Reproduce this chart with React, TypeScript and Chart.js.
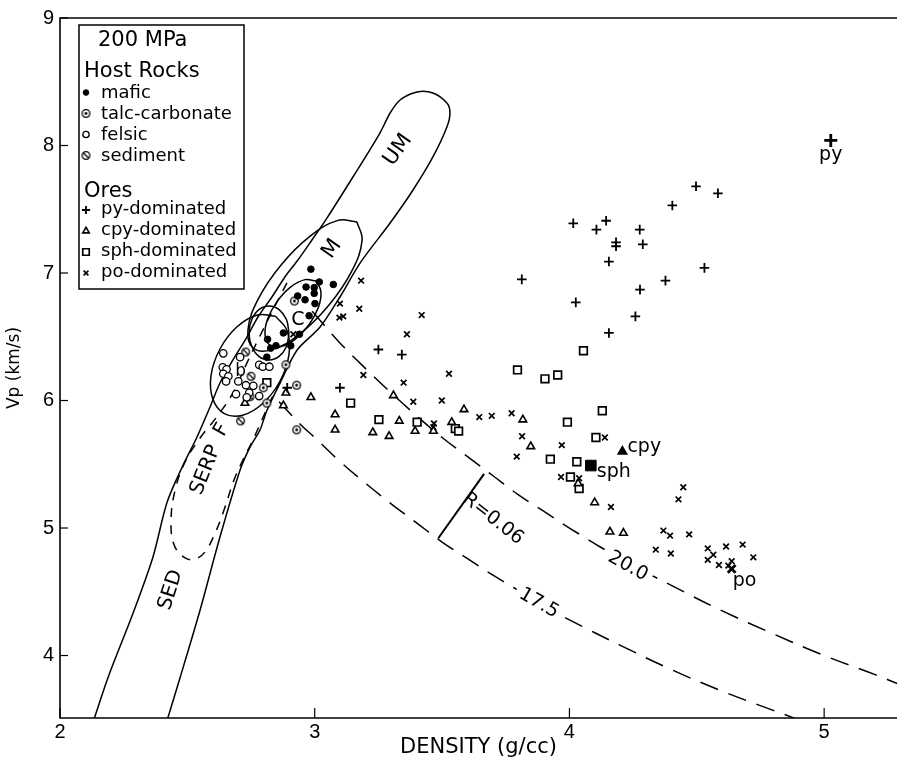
import React, { useEffect, useRef } from 'react';
import { Chart, registerables } from 'chart.js';
import { drawPoint } from 'chart.js/helpers';
Chart.register(...registerables);

type P = [number, number];

// ---------- axes ----------
const xTicks = [2, 3, 4, 5];
const yTicks = [4, 5, 6, 7, 8, 9];
const xRange: P = [2, 5.286];
const yRange: P = [3.51, 9];

// ---------- host rocks ----------
const mafic: P[] = [[2.985,7.03],[3.018,6.93],[3.073,6.91],[2.966,6.89],[2.998,6.885],[2.998,6.84],[2.933,6.82],[2.962,6.79],[3.001,6.76],[2.978,6.665],[2.940,6.52],[2.906,6.43],[2.877,6.53],[2.815,6.48],[2.848,6.43],[2.827,6.41],[2.812,6.34]];
const talc: P[] = [[2.920,6.78],[2.887,6.28],[2.798,6.10],[2.812,5.98],[2.929,6.12],[2.929,5.77]];
const felsic: P[] = [[2.641,6.37],[2.707,6.34],[2.639,6.26],[2.654,6.245],[2.641,6.21],[2.661,6.19],[2.652,6.15],[2.700,6.15],[2.730,6.12],[2.759,6.115],[2.691,6.05],[2.743,6.06],[2.782,6.035],[2.782,6.28],[2.796,6.265],[2.822,6.265],[2.733,6.025]];
const sediment: P[] = [[2.729,6.38],[2.750,6.19],[2.746,6.03],[2.709,5.84]];

// ---------- ores ----------
const pyDom: P[] = [[2.892,6.10],[3.099,6.10],[3.250,6.40],[3.342,6.36],[3.813,6.95],[4.015,7.39],[4.144,7.41],[4.106,7.34],[4.276,7.34],[4.183,7.24],[4.183,7.21],[4.288,7.225],[4.155,7.09],[4.025,6.77],[4.277,6.87],[4.377,6.94],[4.530,7.04],[4.259,6.66],[4.155,6.53],[4.497,7.68],[4.583,7.625],[4.404,7.53]];
const cpyDom: P[] = [[2.887,6.06],[2.877,5.96],[2.726,5.98],[2.985,6.025],[3.080,5.89],[3.080,5.77],[3.228,5.75],[3.292,5.72],[3.309,6.04],[3.332,5.84],[3.394,5.76],[3.466,5.76],[3.538,5.83],[3.586,5.93],[3.817,5.85],[3.848,5.64],[4.034,5.35],[4.099,5.20],[4.159,4.97],[4.212,4.96]];
const sphDom: P[] = [[2.812,6.14],[3.141,5.98],[3.252,5.85],[3.402,5.83],[3.552,5.78],[3.565,5.76],[3.796,6.24],[3.904,6.17],[3.954,6.20],[4.055,6.39],[4.129,5.92],[3.992,5.83],[4.104,5.71],[3.925,5.54],[4.029,5.52],[4.004,5.40],[4.038,5.31]];
const poDom: P[] = [[2.916,6.52],[3.182,6.94],[3.099,6.76],[3.175,6.72],[3.097,6.65],[3.112,6.66],[3.420,6.67],[3.362,6.52],[3.527,6.21],[3.349,6.14],[3.191,6.20],[3.387,5.99],[3.499,6.00],[3.468,5.82],[3.466,5.79],[3.646,5.87],[3.695,5.88],[3.773,5.90],[3.814,5.72],[3.793,5.56],[3.970,5.65],[4.139,5.71],[3.967,5.40],[4.038,5.39],[4.163,5.165],[4.447,5.32],[4.428,5.225],[4.369,4.98],[4.395,4.94],[4.470,4.95],[4.339,4.83],[4.398,4.80],[4.543,4.84],[4.565,4.79],[4.615,4.855],[4.680,4.87],[4.543,4.75],[4.587,4.71],[4.722,4.77],[4.637,4.74],[4.624,4.705]];

// pure minerals
const pyMineral: P[] = [[5.026, 8.04]];
const cpyMineral: P[] = [[4.208, 5.60]];
const sphMineral: P[] = [[4.084, 5.49]];
const poMineral: P[] = [[4.637, 4.68]];

// ---------- field outlines ----------
const bandOutline: P[] = [[2.107,3.337],[2.188,3.824],[2.287,4.333],[2.365,4.773],[2.420,5.20],[2.480,5.48],[2.538,5.714],[2.589,5.949],[2.628,6.137],[2.679,6.318],[2.734,6.498],[2.777,6.655],[2.832,6.812],[2.883,6.969],[2.934,7.102],[2.989,7.259],[3.048,7.431],[3.150,7.753],[3.256,8.098],[3.296,8.255],[3.335,8.357],[3.402,8.42],[3.464,8.412],[3.519,8.333],[3.531,8.255],[3.519,8.145],[3.464,7.91],[3.386,7.651],[3.296,7.392],[3.178,7.078],[3.099,6.812],[3.021,6.576],[2.931,6.396],[2.864,6.137],[2.813,5.925],[2.785,5.769],[2.746,5.635],[2.707,5.455],[2.628,4.929],[2.550,4.357],[2.471,3.824],[2.397,3.337]];
const mOutline: P[] = [[3.166,7.40],[3.186,7.256],[3.146,7.017],[3.056,6.749],[2.942,6.523],[2.832,6.399],[2.758,6.412],[2.738,6.556],[2.778,6.795],[2.868,7.063],[2.982,7.289],[3.091,7.413],[3.166,7.40]];
const cOutline: P[] = [[3.005,6.937],[3.024,6.859],[3.015,6.733],[2.978,6.596],[2.924,6.482],[2.868,6.424],[2.824,6.435],[2.805,6.514],[2.815,6.639],[2.852,6.776],[2.905,6.89],[2.962,6.948],[3.005,6.937]];
const aOutline: P[] = [[2.899,6.529],[2.889,6.424],[2.860,6.346],[2.821,6.318],[2.781,6.346],[2.753,6.424],[2.742,6.529],[2.753,6.635],[2.781,6.713],[2.821,6.741],[2.860,6.713],[2.889,6.635],[2.899,6.529]];
const bOutline: P[] = [[2.847,6.66],[2.892,6.546],[2.899,6.36],[2.864,6.153],[2.797,5.979],[2.717,5.885],[2.645,5.897],[2.600,6.011],[2.593,6.197],[2.628,6.404],[2.695,6.578],[2.775,6.671],[2.847,6.66]];
const fOutline: P[] = [[2.891,6.922],[2.836,6.71],[2.785,6.506],[2.730,6.278],[2.679,6.059],[2.612,5.863],[2.550,5.706],[2.491,5.518],[2.452,5.298],[2.436,5.063],[2.448,4.867],[2.491,4.765],[2.530,4.757],[2.569,4.812],[2.609,4.961],[2.648,5.165],[2.683,5.376],[2.722,5.549],[2.754,5.675],[2.789,5.831],[2.828,6.004],[2.872,6.176]];

// impedance contours and reflection bar
const curve20: P[] = [[2.99,6.70],[3.1,6.45],[3.2,6.25],[3.3,6.06],[3.4,5.88],[3.5,5.71],[3.6,5.56],[3.7,5.41],[3.8,5.26],[3.9,5.13],[4.0,5.00],[4.2,4.76],[4.4,4.55],[4.6,4.35],[4.8,4.17],[5.0,4.00],[5.2,3.85],[5.3,3.77]];
const curve175: P[] = [[2.86,5.99],[2.95,5.80],[3.0,5.71],[3.1,5.52],[3.2,5.35],[3.3,5.19],[3.4,5.04],[3.5,4.89],[3.6,4.76],[3.7,4.63],[3.8,4.51],[3.9,4.39],[4.0,4.28],[4.2,4.08],[4.4,3.89],[4.6,3.72],[4.8,3.57],[4.95,3.46]];
const rBar: P[] = [[3.665,5.425],[3.485,4.92]];

// ---------- text ----------
const fieldLabels = ['UM', 'M', 'C', 'b', 'F', 'SERP', 'SED'];
const fieldAnchors: P[] = [[3.327,7.965],[3.068,7.188],[2.934,6.631],[2.709,6.226],[2.635,5.77],[2.572,5.455],[2.435,4.514]];
const contourLabels = ['20.0', '17.5', 'R=0.06'];
const contourAnchors: P[] = [[4.23,4.70],[3.88,4.41],[3.70,5.071]];
const mineralLabels = ['py', 'cpy', 'sph', 'po'];
const legendHost = ['mafic', 'talc-carbonate', 'felsic', 'sediment'];
const legendOres = ['py-dominated', 'cpy-dominated', 'sph-dominated', 'po-dominated'];

const toXY = (a: P[]) => a.map(([x, y]) => ({ x, y }));

function makeMarker(kind: 'talc' | 'sed') {
  const c = document.createElement('canvas');
  c.width = 11; c.height = 11;
  const g = c.getContext('2d')!;
  g.lineWidth = 1.3; g.strokeStyle = '#000'; g.fillStyle = '#fff';
  g.beginPath(); g.arc(5.5, 5.5, 3.8, 0, Math.PI * 2); g.fill(); g.stroke();
  if (kind === 'talc') {
    g.fillStyle = '#000'; g.beginPath(); g.arc(5.5, 5.5, 1.4, 0, Math.PI * 2); g.fill();
  } else {
    g.beginPath(); g.moveTo(3, 3); g.lineTo(8, 8); g.stroke();
  }
  return c;
}

function txt(ctx: CanvasRenderingContext2D, s: string, x: number, y: number, size: number, rot = 0,
  align: CanvasTextAlign = 'center', baseline: CanvasTextBaseline = 'middle', bg = false) {
  ctx.save();
  ctx.translate(x, y);
  ctx.rotate((rot * Math.PI) / 180);
  ctx.font = `${size}px "DejaVu Sans"`;
  ctx.textAlign = align;
  ctx.textBaseline = baseline;
  if (bg) {
    const w = ctx.measureText(s).width;
    ctx.fillStyle = '#fff';
    ctx.fillRect(-w / 2 - 5, -size * 0.62, w + 10, size * 1.24);
  }
  ctx.fillStyle = '#000';
  ctx.fillText(s, 0, 0);
  ctx.restore();
}

export default function App() {
  const ref = useRef<HTMLCanvasElement>(null);
  useEffect(() => {
    const talcImg = makeMarker('talc');
    const sedImg = makeMarker('sed');

    const pts = (label: string, data: P[], style: any, radius: number, fill: string, bw = 1.2) => ({
      type: 'scatter' as const, label, data: toXY(data), pointStyle: style, pointRadius: radius,
      pointBackgroundColor: fill, pointBorderColor: '#000', pointBorderWidth: bw, showLine: false,
    });
    const line = (label: string, data: P[], dash: number[], width: number, tension: number) => ({
      type: 'scatter' as const, label, data: toXY(data), showLine: true, pointRadius: 0,
      borderColor: '#000', borderWidth: width, borderDash: dash, tension, fill: false,
    });

    const markers: Record<string, { style: any; radius: number; fill: string; bw: number }> = {
      mafic: { style: 'circle', radius: 3.3, fill: '#000', bw: 1 },
      talc: { style: talcImg, radius: 4, fill: '#fff', bw: 1.3 },
      felsic: { style: 'circle', radius: 3.7, fill: '#fff', bw: 1.3 },
      sed: { style: sedImg, radius: 4, fill: '#fff', bw: 1.3 },
      py: { style: 'cross', radius: 4.8, fill: '#000', bw: 1.8 },
      cpy: { style: 'triangle', radius: 4.4, fill: '#fff', bw: 1.6 },
      sph: { style: 'rect', radius: 5.4, fill: '#fff', bw: 1.7 },
      po: { style: 'crossRot', radius: 4.0, fill: '#000', bw: 1.7 },
    };

    const decor = {
      id: 'decor',
      afterDatasetsDraw(chart: any) {
        const { ctx, chartArea, scales } = chart;
        const { left, top, right, bottom } = chartArea;
        const xs = scales.x, ys = scales.y;
        const px = (v: number) => xs.getPixelForValue(v);
        const py = (v: number) => ys.getPixelForValue(v);
        ctx.save();
        // frame
        ctx.strokeStyle = '#000';
        ctx.lineWidth = 1.6;
        ctx.beginPath();
        ctx.moveTo(right + 5, top); ctx.lineTo(left, top); ctx.lineTo(left, bottom); ctx.lineTo(right + 5, bottom);
        ctx.stroke();
        ctx.lineWidth = 1.2;
        xTicks.forEach((v) => { const X = px(v); ctx.beginPath(); ctx.moveTo(X, bottom); ctx.lineTo(X, bottom - 10); ctx.stroke(); });
        yTicks.forEach((v) => { const Y = py(v); ctx.beginPath(); ctx.moveTo(left, Y); ctx.lineTo(left + 8, Y); ctx.stroke(); });

        // field labels
        const fieldRot = [-55, -55, 0, 0, -60, -68, -72];
        const fieldSize = [21, 21, 19, 17, 20, 20, 20];
        fieldLabels.forEach((s, i) => txt(ctx, s, px(fieldAnchors[i][0]), py(fieldAnchors[i][1]), fieldSize[i], fieldRot[i]));
        // contour labels
        const cRot = [29, 30, 38];
        contourLabels.forEach((s, i) => txt(ctx, s, px(contourAnchors[i][0]), py(contourAnchors[i][1]), 19, cRot[i], 'center', 'middle', i < 2));
        // mineral labels
        const mins = [pyMineral[0], cpyMineral[0], sphMineral[0], poMineral[0]];
        const off: P[] = [[0, 20], [5, 0], [6, 11], [1, 17]];
        const al: CanvasTextAlign[] = ['center', 'left', 'left', 'left'];
        mineralLabels.forEach((s, i) => txt(ctx, s, px(mins[i][0]) + off[i][0], py(mins[i][1]) + off[i][1], 19, 0, al[i], 'alphabetic'));

        // legend box
        ctx.fillStyle = '#fff';
        ctx.fillRect(79, 25, 165, 264);
        ctx.strokeStyle = '#000';
        ctx.lineWidth = 1.5;
        ctx.strokeRect(79, 25, 165, 264);
        txt(ctx, '200 MPa', 98, 46, 21, 0, 'left', 'alphabetic');
        txt(ctx, 'Host Rocks', 84, 77, 21, 0, 'left', 'alphabetic');
        txt(ctx, 'Ores', 84, 197, 21, 0, 'left', 'alphabetic');
        const hostKeys = ['mafic', 'talc', 'felsic', 'sed'];
        const oreKeys = ['py', 'cpy', 'sph', 'po'];
        const drawKey = (key: string, x: number, y: number, scale = 0.85) => {
          const m = markers[key];
          ctx.save();
          ctx.fillStyle = m.fill; ctx.strokeStyle = '#000'; ctx.lineWidth = m.bw;
          drawPoint(ctx, { pointStyle: m.style, radius: m.radius * scale, borderWidth: m.bw, rotation: 0 } as any, x, y);
          ctx.restore();
        };
        legendHost.forEach((s, i) => {
          const base = 97.5 + i * 21;
          drawKey(hostKeys[i], 86, Math.round(base - 6) + 0.5);
          txt(ctx, s, 101, base, 18, 0, 'left', 'alphabetic');
        });
        legendOres.forEach((s, i) => {
          const base = 214 + i * 21;
          drawKey(oreKeys[i], 86, base - 4);
          txt(ctx, s, 101, base, 18, 0, 'left', 'alphabetic');
        });
        ctx.restore();
      },
    };

    const m = markers;
    const chart = new Chart(ref.current!, {
      type: 'scatter',
      data: {
        datasets: [
          pts('po mineral', poMineral, 'crossRot', 5.5, '#000', 2.8),
          pts('sph mineral', sphMineral, 'rect', 7.5, '#000', 1),
          pts('cpy mineral', cpyMineral, 'triangle', 5, '#000', 1.5),
          pts('py mineral', pyMineral, 'cross', 6.5, '#000', 2.8),
          pts('mafic', mafic, m.mafic.style, m.mafic.radius, m.mafic.fill, m.mafic.bw),
          pts('talc-carbonate', talc, m.talc.style, m.talc.radius, m.talc.fill),
          pts('felsic', felsic, m.felsic.style, m.felsic.radius, m.felsic.fill, m.felsic.bw),
          pts('sediment', sediment, m.sed.style, m.sed.radius, m.sed.fill),
          pts('py-dominated', pyDom, m.py.style, m.py.radius, m.py.fill, m.py.bw),
          pts('cpy-dominated', cpyDom, m.cpy.style, m.cpy.radius, m.cpy.fill, m.cpy.bw),
          pts('sph-dominated', sphDom, m.sph.style, m.sph.radius, m.sph.fill, m.sph.bw),
          pts('po-dominated', poDom, m.po.style, m.po.radius, m.po.fill, m.po.bw),
          line('R=0.06', rBar, [], 2, 0),
          line('Z 20.0', curve20, [19, 11], 1.5, 0.4),
          line('Z 17.5', curve175, [19, 11], 1.5, 0.4),
          line('F', fOutline, [9, 8], 1.5, 0.4),
          line('b', bOutline, [], 1.5, 0.4),
          line('A', aOutline, [], 1.5, 0.4),
          line('C', cOutline, [], 1.5, 0.4),
          line('M', mOutline, [], 1.5, 0.4),
          line('band', bandOutline, [], 1.5, 0.3),
        ] as any,
      },
      options: {
        animation: false,
        responsive: false,
        events: [],
        layout: { autoPadding: false, padding: { top: 18, right: 0, left: 0, bottom: 0 } },
        plugins: { legend: { display: false }, tooltip: { enabled: false } },
        scales: {
          x: {
            type: 'linear', min: xRange[0], max: xRange[1],
            afterBuildTicks: (s: any) => { s.ticks = xTicks.map((value) => ({ value })); },
            afterFit: (s: any) => { s.height = 42; s.paddingLeft = 0; s.paddingRight = 0; },
            grid: { display: false, drawTicks: false }, border: { display: false },
            ticks: { color: '#000', font: { family: 'Liberation Sans', size: 20 }, padding: 2, maxRotation: 0, autoSkip: false },
            title: { display: true, text: 'DENSITY (g/cc)', color: '#000', font: { family: 'DejaVu Sans', size: 21 }, padding: { top: 0, bottom: 0 } },
          },
          y: {
            type: 'linear', min: yRange[0], max: yRange[1],
            afterBuildTicks: (s: any) => { s.ticks = yTicks.map((value) => ({ value })); },
            afterFit: (s: any) => { s.width = 60; s.paddingTop = 0; s.paddingBottom = 0; },
            grid: { display: false, drawTicks: false }, border: { display: false },
            ticks: { color: '#000', font: { family: 'Liberation Sans', size: 20 }, padding: 6, autoSkip: false },
            title: { display: true, text: 'Vp (km/s)', color: '#000', font: { family: 'DejaVu Sans', size: 17 }, padding: { top: 4, bottom: 0 } },
          },
        },
      } as any,
      plugins: [decor],
    });
    return () => chart.destroy();
  }, []);

  return (
    <div style={{ position: 'fixed', left: 0, top: 0, width: 897, height: 760, background: '#fff' }}>
      <canvas ref={ref} width={897} height={760} style={{ width: 897, height: 760 }} />
    </div>
  );
}
